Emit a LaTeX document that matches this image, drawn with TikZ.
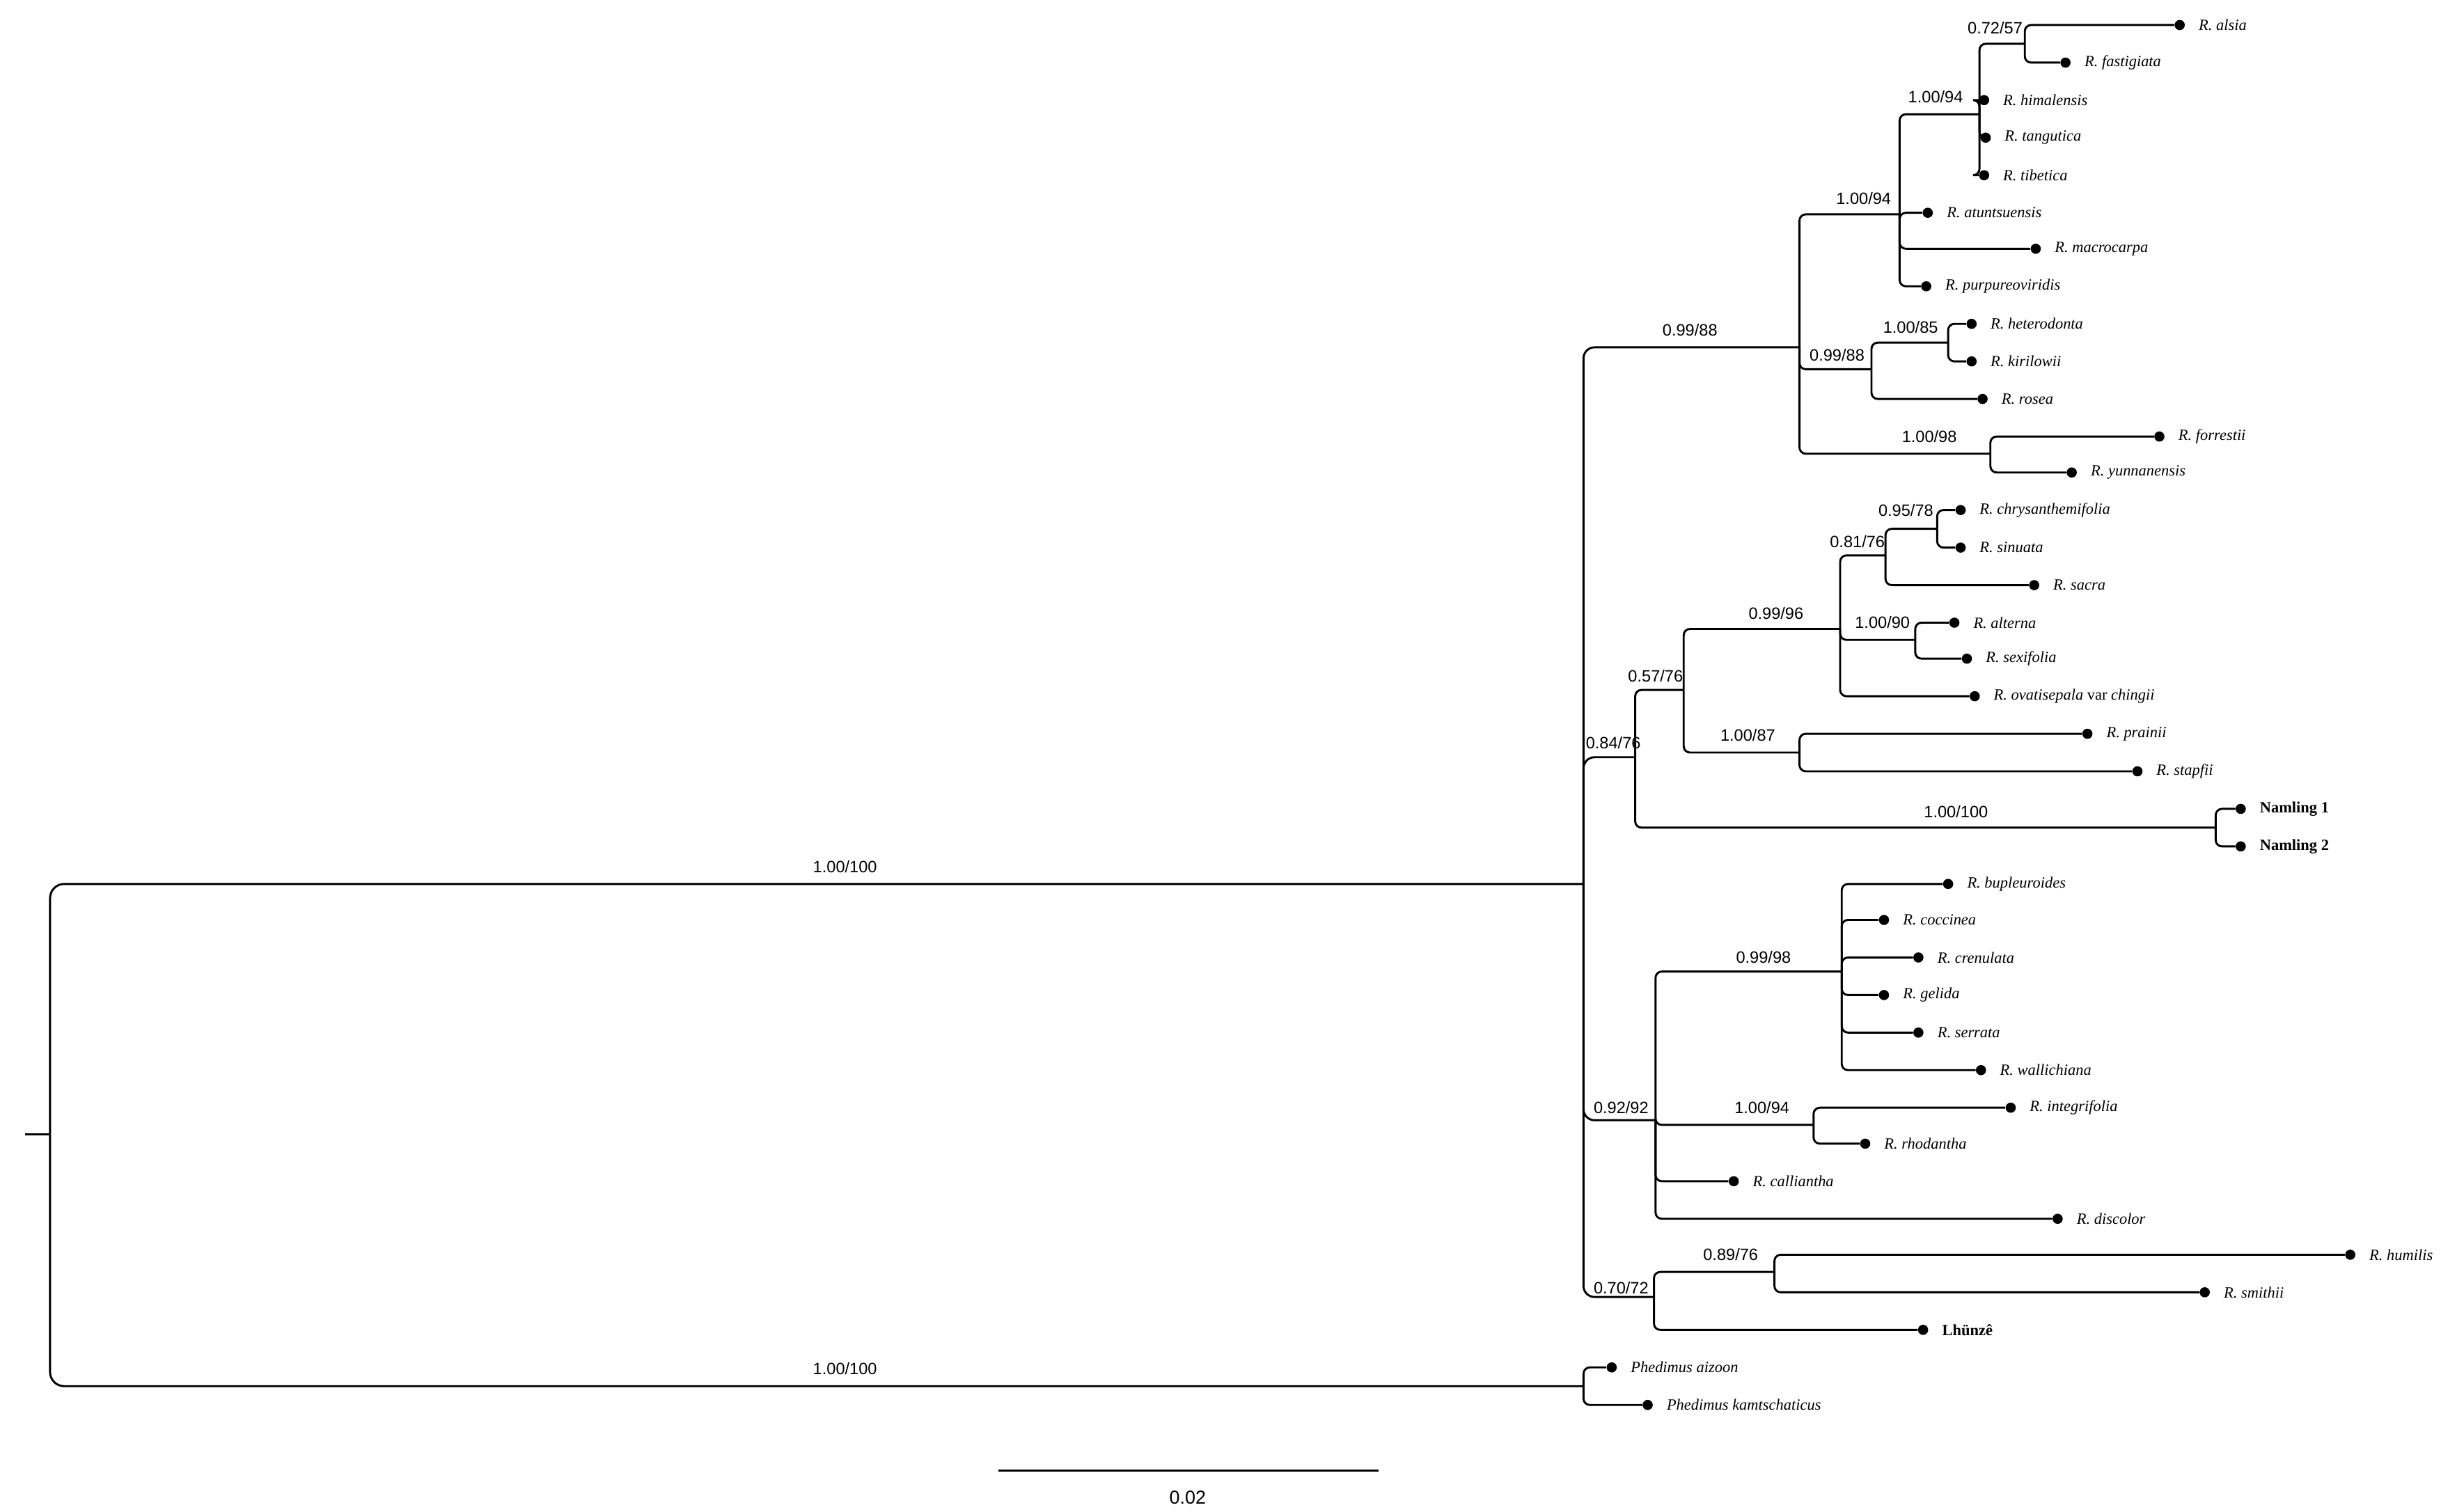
\documentclass[tikz,border=0pt]{standalone}
\usepackage{fontspec}
\setmainfont{Liberation Serif}
\newfontfamily\sv{Liberation Sans}
\begin{document}
\begin{tikzpicture}[x=1pt,y=-1pt,
  br/.style={line width=1.3pt,rounded corners=4pt},
  dot/.style={circle,fill=black,inner sep=0pt,minimum size=6.5pt},
  tl/.style={anchor=west,font=\fontsize{10}{12}\selectfont\itshape,inner sep=0pt},
  tb/.style={anchor=west,font=\fontsize{10}{12}\selectfont\bfseries,inner sep=0pt},
  sup/.style={font=\sv\fontsize{10.5}{12}\selectfont,inner sep=0pt}]
\useasboundingbox (0,0) rectangle (1560,966);
\newcommand\tp[5][tl]{\node[dot] (#2) at (#3,#4) {}; \node[#1] (#2l) at (#3+12,#4) {#5};}
% internal nodes
\coordinate (S) at (16,725); \coordinate (R) at (32,725);
\coordinate (I) at (1012,565); \coordinate (O) at (1012,886);
\coordinate (A) at (1150,222); \coordinate (B) at (1214,137); \coordinate (C) at (1196,236); \coordinate (D) at (1272,290);
\coordinate (E) at (1265,73); \coordinate (F) at (1294,28); \coordinate (G) at (1245,219);
\coordinate (H) at (1045,484); \coordinate (J) at (1076,441); \coordinate (Nm) at (1416,529);
\coordinate (K) at (1176,402); \coordinate (L) at (1150,481); \coordinate (M) at (1205,355);
\coordinate (N) at (1224,409); \coordinate (P) at (1238,338);
\coordinate (Q) at (1058,716); \coordinate (T) at (1177,621); \coordinate (U) at (1159,719);
\coordinate (V) at (1057,829); \coordinate (W) at (1134,813);
% tips
\tp{alsia}{1393}{16}{R. alsia}
\tp{fast}{1320}{40}{R. fastigiata}
\tp{him}{1268}{64}{R. himalensis}
\tp{tang}{1269}{88}{R. tangutica}
\tp{tib}{1268}{112}{R. tibetica}
\tp{atun}{1232}{136}{R. atuntsuensis}
\tp{macro}{1301}{159}{R. macrocarpa}
\tp{purp}{1231}{183}{R. purpureoviridis}
\tp{het}{1260}{207}{R. heterodonta}
\tp{kir}{1260}{231}{R. kirilowii}
\tp{ros}{1267}{255}{R. rosea}
\tp{forr}{1380}{279}{R. forrestii}
\tp{yun}{1324}{302}{R. yunnanensis}
\tp{chr}{1253}{326}{R. chrysanthemifolia}
\tp{sin}{1253}{350}{R. sinuata}
\tp{sac}{1300}{374}{R. sacra}
\tp{alt}{1249}{398}{R. alterna}
\tp{sex}{1257}{421}{R. sexifolia}
\tp{ova}{1262}{445}{R. ovatisepala \upshape var \itshape chingii}
\tp{pra}{1334}{469}{R. prainii}
\tp{sta}{1366}{493}{R. stapfii}
\tp[tb]{n1}{1432}{517}{Namling 1}
\tp[tb]{n2}{1432}{541}{Namling 2}
\tp{bup}{1245}{565}{R. bupleuroides}
\tp{coc}{1204}{588}{R. coccinea}
\tp{cre}{1226}{612}{R. crenulata}
\tp{gel}{1204}{636}{R. gelida}
\tp{ser}{1226}{660}{R. serrata}
\tp{wal}{1266}{684}{R. wallichiana}
\tp{int}{1285}{708}{R. integrifolia}
\tp{rho}{1192}{731}{R. rhodantha}
\tp{cal}{1108}{755}{R. calliantha}
\tp{dis}{1315}{779}{R. discolor}
\tp{hum}{1502}{802}{R. humilis}
\tp{smi}{1409}{826}{R. smithii}
\tp[tb]{lhu}{1229}{850}{Lhünzê}
\tp{aiz}{1030}{874}{Phedimus aizoon}
\tp{kam}{1053}{898}{Phedimus kamtschaticus}
% branches
\draw[br] (S) -- (R);
\draw[br,rounded corners=9pt] (R) |- (I); \draw[br,rounded corners=9pt] (R) |- (O);
\foreach \c in {A,H,Q,V} \draw[br,rounded corners=7pt] (I) |- (\c);
\foreach \c in {B,C,D} \draw[br] (A) |- (\c);
\foreach \c in {E,atun,macro,purp} \draw[br] (B) |- (\c);
\foreach \c in {F,him,tang,tib} \draw[br] (E) |- (\c);
\foreach \c in {alsia,fast} \draw[br] (F) |- (\c);
\foreach \c in {G,ros} \draw[br] (C) |- (\c);
\foreach \c in {het,kir} \draw[br] (G) |- (\c);
\foreach \c in {forr,yun} \draw[br] (D) |- (\c);
\foreach \c in {J,Nm} \draw[br] (H) |- (\c);
\foreach \c in {K,L} \draw[br] (J) |- (\c);
\foreach \c in {M,N,ova} \draw[br] (K) |- (\c);
\foreach \c in {P,sac} \draw[br] (M) |- (\c);
\foreach \c in {chr,sin} \draw[br] (P) |- (\c);
\foreach \c in {alt,sex} \draw[br] (N) |- (\c);
\foreach \c in {pra,sta} \draw[br] (L) |- (\c);
\foreach \c in {n1,n2} \draw[br] (Nm) |- (\c);
\foreach \c in {T,U,cal,dis} \draw[br] (Q) |- (\c);
\foreach \c in {bup,coc,cre,gel,ser,wal} \draw[br] (T) |- (\c);
\foreach \c in {int,rho} \draw[br] (U) |- (\c);
\foreach \c in {W,lhu} \draw[br] (V) |- (\c);
\foreach \c in {hum,smi} \draw[br] (W) |- (\c);
\foreach \c in {aiz,kam} \draw[br] (O) |- (\c);
% support values
\node[sup] (s1) at (1275,18) {0.72/57};
\node[sup] (s2) at (1237,62) {1.00/94};
\node[sup] (s3) at (1191,127) {1.00/94};
\node[sup] (s4) at (1080,211) {0.99/88};
\node[sup] (s5) at (1174,227) {0.99/88};
\node[sup] (s6) at (1221,209) {1.00/85};
\node[sup] (s7) at (1233,279) {1.00/98};
\node[sup] (s8) at (1218,326) {0.95/78};
\node[sup] (s9) at (1187,346) {0.81/76};
\node[sup] (s10) at (1135,392) {0.99/96};
\node[sup] (s11) at (1203,398) {1.00/90};
\node[sup] (s12) at (1058,432) {0.57/76};
\node[sup] (s13) at (1117,470) {1.00/87};
\node[sup] (s14) at (1031,475) {0.84/76};
\node[sup] (s15) at (1250,519) {1.00/100};
\node[sup] (s16) at (1127,612) {0.99/98};
\node[sup] (s17) at (1036,708) {0.92/92};
\node[sup] (s18) at (1126,708) {1.00/94};
\node[sup] (s19) at (1106,802) {0.89/76};
\node[sup] (s20) at (1036,823) {0.70/72};
\node[sup] (s21) at (540,554) {1.00/100};
\node[sup] (s22) at (540,875) {1.00/100};
% scale bar
\coordinate (b1) at (638,940); \coordinate (b2) at (881,940);
\draw[line width=1.3pt] (b1) -- (b2);
\node[sup,font=\sv\fontsize{12}{14}\selectfont] (sb) at (759,957) {0.02};
\end{tikzpicture}
\end{document}
